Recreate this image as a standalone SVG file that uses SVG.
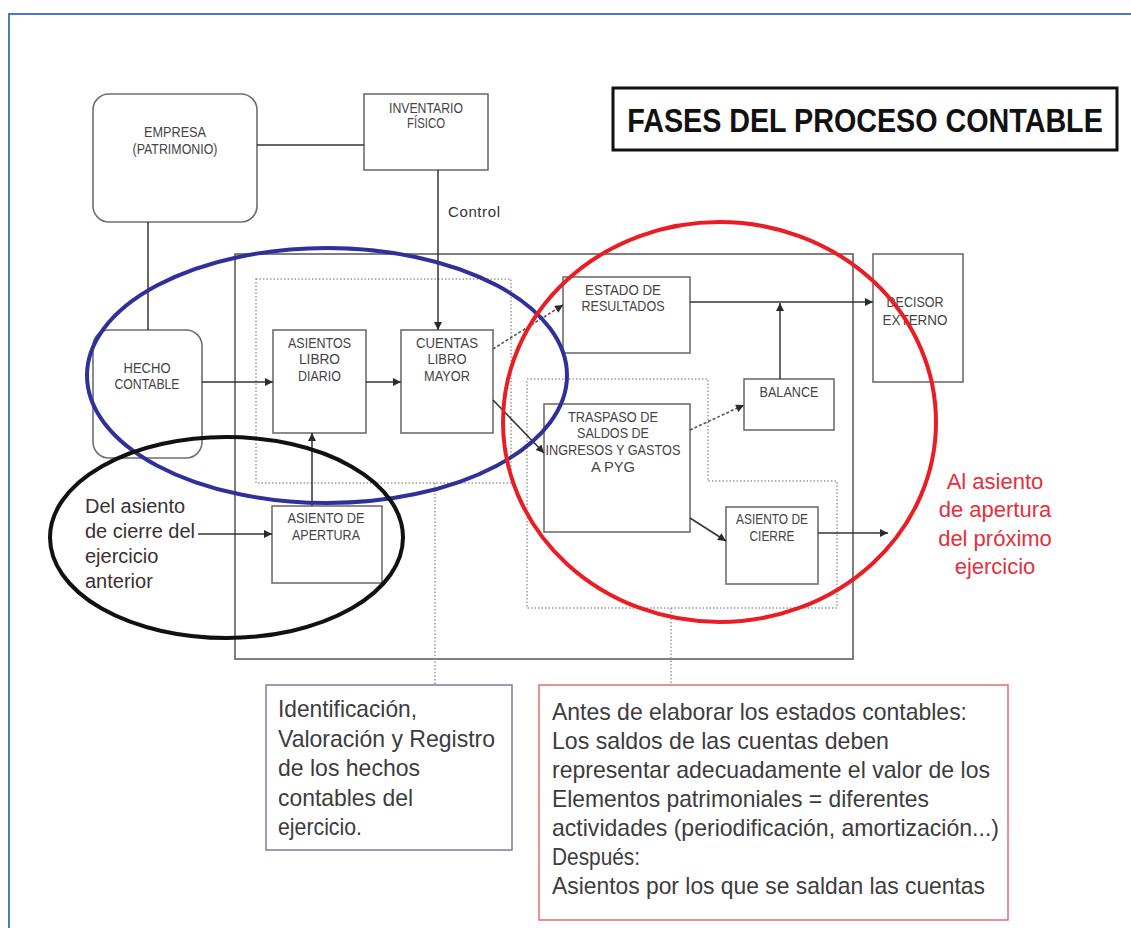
<svg xmlns="http://www.w3.org/2000/svg" width="1131" height="928" viewBox="0 0 1131 928">
<defs>
<style>
.box{fill:#fff;stroke:#6e6e6e;stroke-width:1.6}
.lbl{font-family:"Liberation Sans",Arial,sans-serif;font-size:15px;fill:#444;text-anchor:middle}
.ln{fill:none;stroke:#333;stroke-width:1.5}
.dot{fill:none;stroke:#9a9a9a;stroke-width:1.5;stroke-dasharray:1.5 2}
.dash{fill:none;stroke:#555;stroke-width:1.6;stroke-dasharray:3 2}
.body{font-family:"Liberation Sans",Arial,sans-serif;font-size:24px;fill:#3c3c3c}
.note{font-family:"Liberation Sans",Arial,sans-serif;font-size:20px;fill:#3b3030}
.red{font-family:"Liberation Sans",Arial,sans-serif;font-size:22px;fill:#e4303c;text-anchor:middle}
.ell{fill:none;stroke-width:4}
</style>
<marker id="ah" viewBox="0 0 10 10" refX="10" refY="5" markerWidth="9" markerHeight="8" markerUnits="userSpaceOnUse" orient="auto"><path d="M0,0 L10,5 L0,10 z" fill="#2a2a2a"/></marker>
</defs>
<rect x="0" y="0" width="1131" height="928" fill="#fff"/>
<path d="M9,928 V14 H1131" fill="none" stroke="#4a78c8" stroke-width="2"/>

<g id="title">
<rect x="613" y="88" width="504" height="62" fill="#fff" stroke="#111" stroke-width="3"/>
<text x="0" y="0" transform="translate(865,132) scale(0.87,1)" font-family="'Liberation Sans',Arial,sans-serif" font-size="33" font-weight="bold" fill="#111" text-anchor="middle">FASES DEL PROCESO CONTABLE</text>
</g>

<g id="frames">
<rect x="235" y="254" width="618" height="405" fill="none" stroke="#555" stroke-width="1.5"/>
<rect x="256" y="279" width="255" height="204" class="dot"/>
<path d="M527,379 H708 V481 H837 V608 H527 Z" class="dot"/>
</g>

<g id="empresa">
<rect x="93" y="94" width="164" height="128" rx="16" class="box"/>
<text class="lbl" x="175" y="137" textLength="62" lengthAdjust="spacingAndGlyphs">EMPRESA</text>
<text class="lbl" x="175" y="154" textLength="85" lengthAdjust="spacingAndGlyphs">(PATRIMONIO)</text>
</g>
<g id="inventario">
<rect x="364" y="94" width="124" height="76" class="box"/>
<text class="lbl" x="426" y="113" textLength="74" lengthAdjust="spacingAndGlyphs">INVENTARIO</text>
<text class="lbl" x="426" y="128" textLength="38" lengthAdjust="spacingAndGlyphs">FÍSICO</text>
</g>
<g id="hecho">
<rect x="93" y="330" width="109" height="128" rx="16" class="box"/>
<text class="lbl" x="147" y="373" textLength="47" lengthAdjust="spacingAndGlyphs">HECHO</text>
<text class="lbl" x="147" y="389" textLength="65" lengthAdjust="spacingAndGlyphs">CONTABLE</text>
</g>
<g id="diario">
<rect x="273" y="330" width="93" height="103" class="box"/>
<text class="lbl" x="319.5" y="348" textLength="63" lengthAdjust="spacingAndGlyphs">ASIENTOS</text>
<text class="lbl" x="319.5" y="364" textLength="41" lengthAdjust="spacingAndGlyphs">LIBRO</text>
<text class="lbl" x="319.5" y="381" textLength="43" lengthAdjust="spacingAndGlyphs">DIARIO</text>
</g>
<g id="mayor">
<rect x="401" y="330" width="92" height="103" class="box"/>
<text class="lbl" x="447" y="348" textLength="62" lengthAdjust="spacingAndGlyphs">CUENTAS</text>
<text class="lbl" x="447" y="364" textLength="39" lengthAdjust="spacingAndGlyphs">LIBRO</text>
<text class="lbl" x="447" y="381" textLength="46" lengthAdjust="spacingAndGlyphs">MAYOR</text>
</g>
<g id="apertura">
<rect x="272" y="506" width="110" height="77" class="box"/>
<text class="lbl" x="326" y="523" textLength="77" lengthAdjust="spacingAndGlyphs">ASIENTO DE</text>
<text class="lbl" x="326" y="540" textLength="68" lengthAdjust="spacingAndGlyphs">APERTURA</text>
</g>
<g id="resultados">
<rect x="563" y="277" width="127" height="76" class="box"/>
<text class="lbl" x="623" y="295" textLength="76" lengthAdjust="spacingAndGlyphs">ESTADO DE</text>
<text class="lbl" x="623" y="311" textLength="83" lengthAdjust="spacingAndGlyphs">RESULTADOS</text>
</g>
<g id="decisor">
<rect x="873" y="254" width="90" height="128" class="box"/>
<text class="lbl" x="915" y="307" textLength="57" lengthAdjust="spacingAndGlyphs">DECISOR</text>
<text class="lbl" x="915" y="325" textLength="65" lengthAdjust="spacingAndGlyphs">EXTERNO</text>
</g>
<g id="balance">
<rect x="744" y="379" width="90" height="51" class="box"/>
<text class="lbl" x="789" y="397" textLength="59" lengthAdjust="spacingAndGlyphs">BALANCE</text>
</g>
<g id="traspaso">
<rect x="544" y="404" width="146" height="128" class="box"/>
<text class="lbl" x="613" y="422" textLength="90" lengthAdjust="spacingAndGlyphs">TRASPASO DE</text>
<text class="lbl" x="613" y="438" textLength="72" lengthAdjust="spacingAndGlyphs">SALDOS DE</text>
<text class="lbl" x="613" y="455" textLength="135" lengthAdjust="spacingAndGlyphs">INGRESOS Y GASTOS</text>
<text class="lbl" x="613" y="472" textLength="44" lengthAdjust="spacingAndGlyphs">A PYG</text>
</g>
<g id="cierre">
<rect x="726" y="507" width="92" height="77" class="box"/>
<text class="lbl" x="772" y="524" textLength="72" lengthAdjust="spacingAndGlyphs">ASIENTO DE</text>
<text class="lbl" x="772" y="541" textLength="45" lengthAdjust="spacingAndGlyphs">CIERRE</text>
</g>

<g id="connectors">
<path class="ln" d="M257,145 H364"/>
<path class="ln" d="M148,222 V330"/>
<path class="ln" d="M438,170 V330" marker-end="url(#ah)"/>
<path class="ln" d="M202,382 H273" marker-end="url(#ah)"/>
<path class="ln" d="M366,382 H401" marker-end="url(#ah)"/>
<path class="ln" d="M312,506 V433" marker-end="url(#ah)"/>
<path class="ln" d="M198,534 H272" marker-end="url(#ah)"/>
<path class="dash" d="M493,349 L563,305" marker-end="url(#ah)"/>
<path class="ln" d="M493,400 L544,453" marker-end="url(#ah)"/>
<path class="ln" d="M690,302 H873" marker-end="url(#ah)"/>
<path class="ln" d="M780,379 V303" marker-end="url(#ah)"/>
<path class="dash" d="M690,430 L744,405" marker-end="url(#ah)"/>
<path class="ln" d="M690,518 L726,541" marker-end="url(#ah)"/>
<path class="ln" d="M818,533 H888" marker-end="url(#ah)"/>
<path class="dot" d="M435,483 V685"/>
<path class="dot" d="M671,608 V685"/>
<text x="448" y="217" font-family="'Liberation Sans',Arial,sans-serif" font-size="15" fill="#333" textLength="52" lengthAdjust="spacing">Control</text>
</g>

<g id="nota-registro">
<rect x="266" y="685" width="246" height="165" fill="#fff" stroke="#7b7ba6" stroke-width="1.5"/>
<text class="body" x="278" y="717" textLength="139" lengthAdjust="spacingAndGlyphs">Identificación,</text>
<text class="body" x="278" y="746.5" textLength="217" lengthAdjust="spacingAndGlyphs">Valoración y Registro</text>
<text class="body" x="278" y="776" textLength="142" lengthAdjust="spacingAndGlyphs">de los hechos</text>
<text class="body" x="278" y="805.5" textLength="135" lengthAdjust="spacingAndGlyphs">contables del</text>
<text class="body" x="278" y="835" textLength="84" lengthAdjust="spacingAndGlyphs">ejercicio.</text>
</g>

<g id="nota-estados">
<rect x="539" y="685" width="469" height="235" fill="#fff" stroke="#e86a70" stroke-width="1.5"/>
<text class="body" x="552" y="720" textLength="415" lengthAdjust="spacingAndGlyphs">Antes de elaborar los estados contables:</text>
<text class="body" x="552" y="749" textLength="337" lengthAdjust="spacingAndGlyphs">Los saldos de las cuentas deben</text>
<text class="body" x="552" y="778" textLength="438" lengthAdjust="spacingAndGlyphs">representar adecuadamente el valor de los</text>
<text class="body" x="552" y="807" textLength="377" lengthAdjust="spacingAndGlyphs">Elementos patrimoniales = diferentes</text>
<text class="body" x="552" y="836" textLength="447" lengthAdjust="spacingAndGlyphs">actividades (periodificación, amortización...)</text>
<text class="body" x="552" y="865" textLength="88" lengthAdjust="spacingAndGlyphs">Después:</text>
<text class="body" x="552" y="894" textLength="433" lengthAdjust="spacingAndGlyphs">Asientos por los que se saldan las cuentas</text>
</g>

<g id="nota-anterior">
<text class="note" x="85" y="513">Del asiento</text>
<text class="note" x="85" y="538">de cierre del</text>
<text class="note" x="85" y="563">ejercicio</text>
<text class="note" x="85" y="588">anterior</text>
</g>

<g id="nota-proximo">
<text class="red" x="995" y="489">Al asiento</text>
<text class="red" x="995" y="517">de apertura</text>
<text class="red" x="995" y="546">del próximo</text>
<text class="red" x="995" y="574">ejercicio</text>
</g>

<g id="highlights">
<ellipse class="ell" cx="327" cy="375.5" rx="240" ry="127.5" stroke="#30309a"/>
<ellipse class="ell" cx="719.5" cy="422" rx="216.5" ry="200" stroke="#ea1c24"/>
<ellipse class="ell" cx="226.5" cy="537.5" rx="176.5" ry="100.5" stroke="#111"/>
</g>
</svg>
